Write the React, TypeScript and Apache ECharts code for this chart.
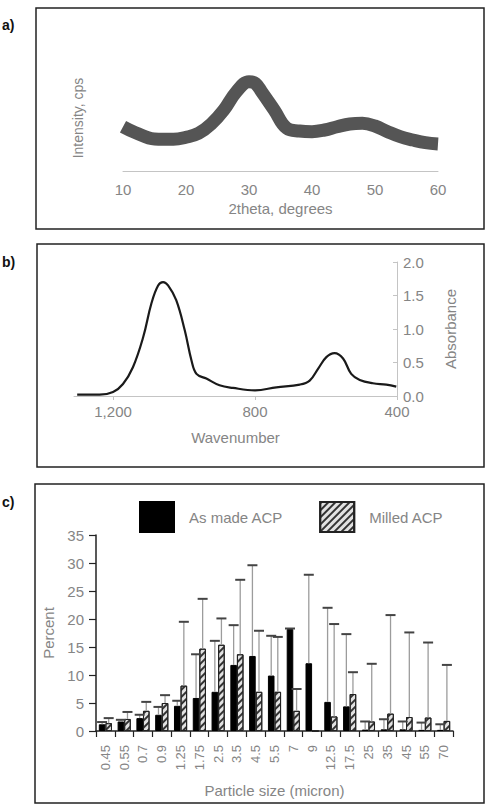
import React, { useEffect, useRef } from "react";
import * as echarts from "echarts";

// ---- Panel a: XRD ----
const xrdTheta = [10, 12, 15, 18, 20, 22, 24, 26, 28, 30, 31, 32, 34, 36, 38, 40, 42, 44, 46, 48, 50, 52, 54, 56, 58, 60];
const xrdIntensity = [443, 383, 320, 317, 337, 377, 470, 610, 793, 893, 877, 793, 610, 427, 400, 393, 410, 443, 470, 477, 450, 393, 343, 310, 283, 270];

// ---- Panel b: FTIR ----
const ftirWavenumber = [1301, 1238, 1200, 1172, 1144, 1115, 1092, 1073, 1059, 1045, 1022, 998, 979, 965, 937, 900, 862, 800, 740, 674, 646, 622, 599, 576, 552, 529, 505, 468, 430, 402];
const ftirAbsorbance = [0.02, 0.02, 0.06, 0.18, 0.43, 0.88, 1.38, 1.65, 1.7, 1.65, 1.43, 0.98, 0.53, 0.33, 0.26, 0.16, 0.12, 0.085, 0.13, 0.17, 0.23, 0.41, 0.58, 0.64, 0.56, 0.33, 0.24, 0.19, 0.17, 0.14];

// ---- Panel c: particle size distribution ----
const sizes = ["0.45", "0.55", "0.7", "0.9", "1.25", "1.75", "2.5", "3.5", "4.5", "5.5", "7", "9", "12.5", "17.5", "25", "35", "45", "55", "70"];
const asMade = [1.2, 1.7, 2.3, 2.9, 4.5, 5.9, 7.0, 11.8, 13.4, 9.9, 18.2, 12.1, 5.2, 4.4, 0.25, 0.3, 0.3, 0.2, 0.2];
const asMadeUpper = [1.6, 2.0, 2.9, 4.3, 5.4, 13.7, 16.1, 18.9, 29.6, 17.0, 18.3, 27.9, 22.0, 17.3, 1.7, 2.1, 1.7, 1.5, 1.2];
const milled = [1.4, 2.15, 3.6, 5.0, 8.1, 14.7, 15.4, 13.7, 7.0, 7.0, 3.6, 0, 2.6, 6.6, 1.7, 3.1, 2.5, 2.4, 1.8];
const milledUpper = [2.3, 3.4, 5.2, 6.4, 19.5, 23.6, 20.1, 27.0, 17.9, 16.8, 7.5, 0, 19.1, 10.5, 12.0, 20.7, 17.6, 15.8, 11.8];

const FONT = "Liberation Sans, Arial, sans-serif";
const GRAY = "#858585";

function errData(vals: number[], upper: number[]) {
  const out: number[][] = [];
  vals.forEach((v, i) => {
    if (upper[i] > v) out.push([i, v, upper[i]]);
  });
  return out;
}

function makeErrRender(side: number) {
  return (params: any, api: any) => {
    const idx = api.value(0);
    const p0 = api.coord([idx, api.value(1)]);
    const p1 = api.coord([idx, api.value(2)]);
    const bw = api.size([1, 0])[0];
    const x = p0[0] + side * bw * 0.175;
    return {
      type: "group",
      children: [
        { type: "line", shape: { x1: x, y1: p0[1], x2: x, y2: p1[1] }, style: { stroke: "#9c9c9c", lineWidth: 1.3 } },
        { type: "line", shape: { x1: x - 5, y1: p1[1], x2: x + 5, y2: p1[1] }, style: { stroke: "#444", lineWidth: 2 } },
      ],
    };
  };
}

export default function App() {
  const ref = useRef<HTMLDivElement>(null);
  useEffect(() => {
    if (!ref.current) return;
    const chart = echarts.init(ref.current, null, { renderer: "svg" });
    const hatch = {
      symbol: "rect",
      symbolSize: 1,
      dashArrayX: [1, 0],
      dashArrayY: [1.6, 2.2],
      rotation: -Math.PI / 4,
      color: "#333",
    };
    const option: any = {
      animation: false,
      textStyle: { fontFamily: FONT },
      grid: [
        { left: 123, right: 54, top: 65, bottom: 641 },
        { left: 74, right: 95, top: 262, bottom: 416 },
        { left: 96, right: 39, top: 535, bottom: 81 },
      ],
      legend: {
        data: ["As made ACP", "Milled ACP"],
        left: 134,
        top: 496,
        icon: "rect",
        itemWidth: 34,
        itemHeight: 30,
        itemGap: 36,
        textStyle: { fontSize: 15, color: GRAY, fontFamily: FONT, padding: [0, 0, 0, 10] },
      },
      xAxis: [
        {
          gridIndex: 0,
          type: "value",
          min: 10,
          max: 60,
          interval: 10,
          axisLine: { show: true, lineStyle: { color: "#c4c4c4", width: 1 } },
          axisTick: { show: false },
          splitLine: { show: false },
          axisLabel: { color: GRAY, fontSize: 15, margin: 11, fontFamily: FONT },
          name: "2theta, degrees",
          nameLocation: "middle",
          nameGap: 30,
          nameTextStyle: { color: GRAY, fontSize: 15, fontFamily: FONT },
        },
        {
          gridIndex: 1,
          type: "value",
          inverse: true,
          min: 400,
          max: 1310,
          interval: 400,
          axisLine: { show: true, lineStyle: { color: "#c4c4c4", width: 1 } },
          axisTick: { show: true, length: 4, lineStyle: { color: "#c4c4c4" } },
          splitLine: { show: false },
          axisLabel: {
            color: GRAY,
            fontSize: 15,
            margin: 8,
            showMaxLabel: false,
            fontFamily: FONT,
            formatter: (v: number) => (v >= 1000 ? Math.floor(v / 1000) + "," + String(v % 1000).padStart(3, "0") : String(v)),
          },
          name: "Wavenumber",
          nameLocation: "middle",
          nameGap: 34,
          nameTextStyle: { color: GRAY, fontSize: 15, fontFamily: FONT },
        },
        {
          gridIndex: 2,
          type: "category",
          data: sizes,
          boundaryGap: true,
          axisLine: { show: true, lineStyle: { color: "#222", width: 1.5 } },
          axisTick: { show: true, length: 6, alignWithLabel: false, lineStyle: { color: "#222", width: 1.2 } },
          axisLabel: { color: GRAY, fontSize: 13, rotate: 90, margin: 14, interval: 0, fontFamily: FONT },
          name: "Particle size (micron)",
          nameLocation: "middle",
          nameGap: 52,
          nameTextStyle: { color: GRAY, fontSize: 15, fontFamily: FONT },
        },
      ],
      yAxis: [
        {
          gridIndex: 0,
          type: "value",
          min: 0,
          max: 1060,
          axisLine: { show: false },
          axisTick: { show: false },
          axisLabel: { show: false },
          splitLine: { show: false },
          name: "Intensity, cps",
          nameLocation: "middle",
          nameRotate: 90,
          nameGap: 38,
          nameTextStyle: { color: GRAY, fontSize: 14, fontFamily: FONT },
        },
        {
          gridIndex: 1,
          type: "value",
          position: "right",
          min: 0,
          max: 2,
          interval: 0.5,
          axisLine: { show: true, lineStyle: { color: "#c4c4c4", width: 1 } },
          axisTick: { show: true, inside: true, length: 4, lineStyle: { color: "#c4c4c4" } },
          splitLine: { show: false },
          axisLabel: { color: GRAY, fontSize: 15, margin: 6, fontFamily: FONT, formatter: (v: number) => v.toFixed(1) },
          name: "Absorbance",
          nameLocation: "middle",
          nameRotate: 90,
          nameGap: 46,
          nameTextStyle: { color: GRAY, fontSize: 15, fontFamily: FONT },
        },
        {
          gridIndex: 2,
          type: "value",
          min: 0,
          max: 35,
          interval: 5,
          axisLine: { show: true, lineStyle: { color: "#222", width: 1.5 } },
          axisTick: { show: true, length: 7, lineStyle: { color: "#222", width: 1.2 } },
          splitLine: { show: false },
          axisLabel: { color: GRAY, fontSize: 15, margin: 12, fontFamily: FONT },
          name: "Percent",
          nameLocation: "middle",
          nameRotate: 90,
          nameGap: 40,
          nameTextStyle: { color: GRAY, fontSize: 15, fontFamily: FONT },
        },
      ],
      series: [
        {
          type: "line",
          xAxisIndex: 0,
          yAxisIndex: 0,
          data: xrdTheta.map((t, i) => [t, xrdIntensity[i]]),
          smooth: 0.4,
          showSymbol: false,
          lineStyle: { color: "#555", width: 13 },
        },
        {
          type: "line",
          xAxisIndex: 1,
          yAxisIndex: 1,
          data: ftirWavenumber.map((w, i) => [w, ftirAbsorbance[i]]),
          smooth: 0.4,
          showSymbol: false,
          lineStyle: { color: "#1a1a1a", width: 2.2 },
        },
        {
          type: "bar",
          name: "As made ACP",
          xAxisIndex: 2,
          yAxisIndex: 2,
          data: asMade,
          barWidth: "35%",
          barGap: "0%",
          itemStyle: { color: "#000", borderColor: "#000", borderWidth: 1 },
        },
        {
          type: "bar",
          name: "Milled ACP",
          xAxisIndex: 2,
          yAxisIndex: 2,
          data: milled,
          barWidth: "35%",
          barGap: "0%",
          itemStyle: { color: "#e2e2e2", borderColor: "#222", borderWidth: 1, decal: hatch },
        },
        {
          type: "custom",
          name: "errAsMade",
          xAxisIndex: 2,
          yAxisIndex: 2,
          data: errData(asMade, asMadeUpper),
          renderItem: makeErrRender(-1),
          z: 5,
        },
        {
          type: "custom",
          name: "errMilled",
          xAxisIndex: 2,
          yAxisIndex: 2,
          data: errData(milled, milledUpper),
          renderItem: makeErrRender(1),
          z: 5,
        },
      ],
      graphic: [
        { type: "rect", shape: { x: 36, y: 8, width: 448, height: 221 }, style: { fill: "none", stroke: "#222", lineWidth: 1.5 }, silent: true },
        { type: "rect", shape: { x: 37, y: 244, width: 447, height: 223 }, style: { fill: "none", stroke: "#222", lineWidth: 1.5 }, silent: true },
        { type: "rect", shape: { x: 35, y: 484, width: 449, height: 319 }, style: { fill: "none", stroke: "#222", lineWidth: 1.5 }, silent: true },
        { type: "text", x: 2, y: 18, style: { text: "a)", fill: "#111", font: "bold 14px " + FONT } },
        { type: "text", x: 2, y: 255, style: { text: "b)", fill: "#111", font: "bold 14px " + FONT } },
        { type: "text", x: 2, y: 495, style: { text: "c)", fill: "#111", font: "bold 14px " + FONT } },
      ],
    };
    chart.setOption(option);
    return () => chart.dispose();
  }, []);
  return <div ref={ref} style={{ position: "fixed", left: 0, top: 0, width: 492, height: 812, background: "#fff" }} />;
}
